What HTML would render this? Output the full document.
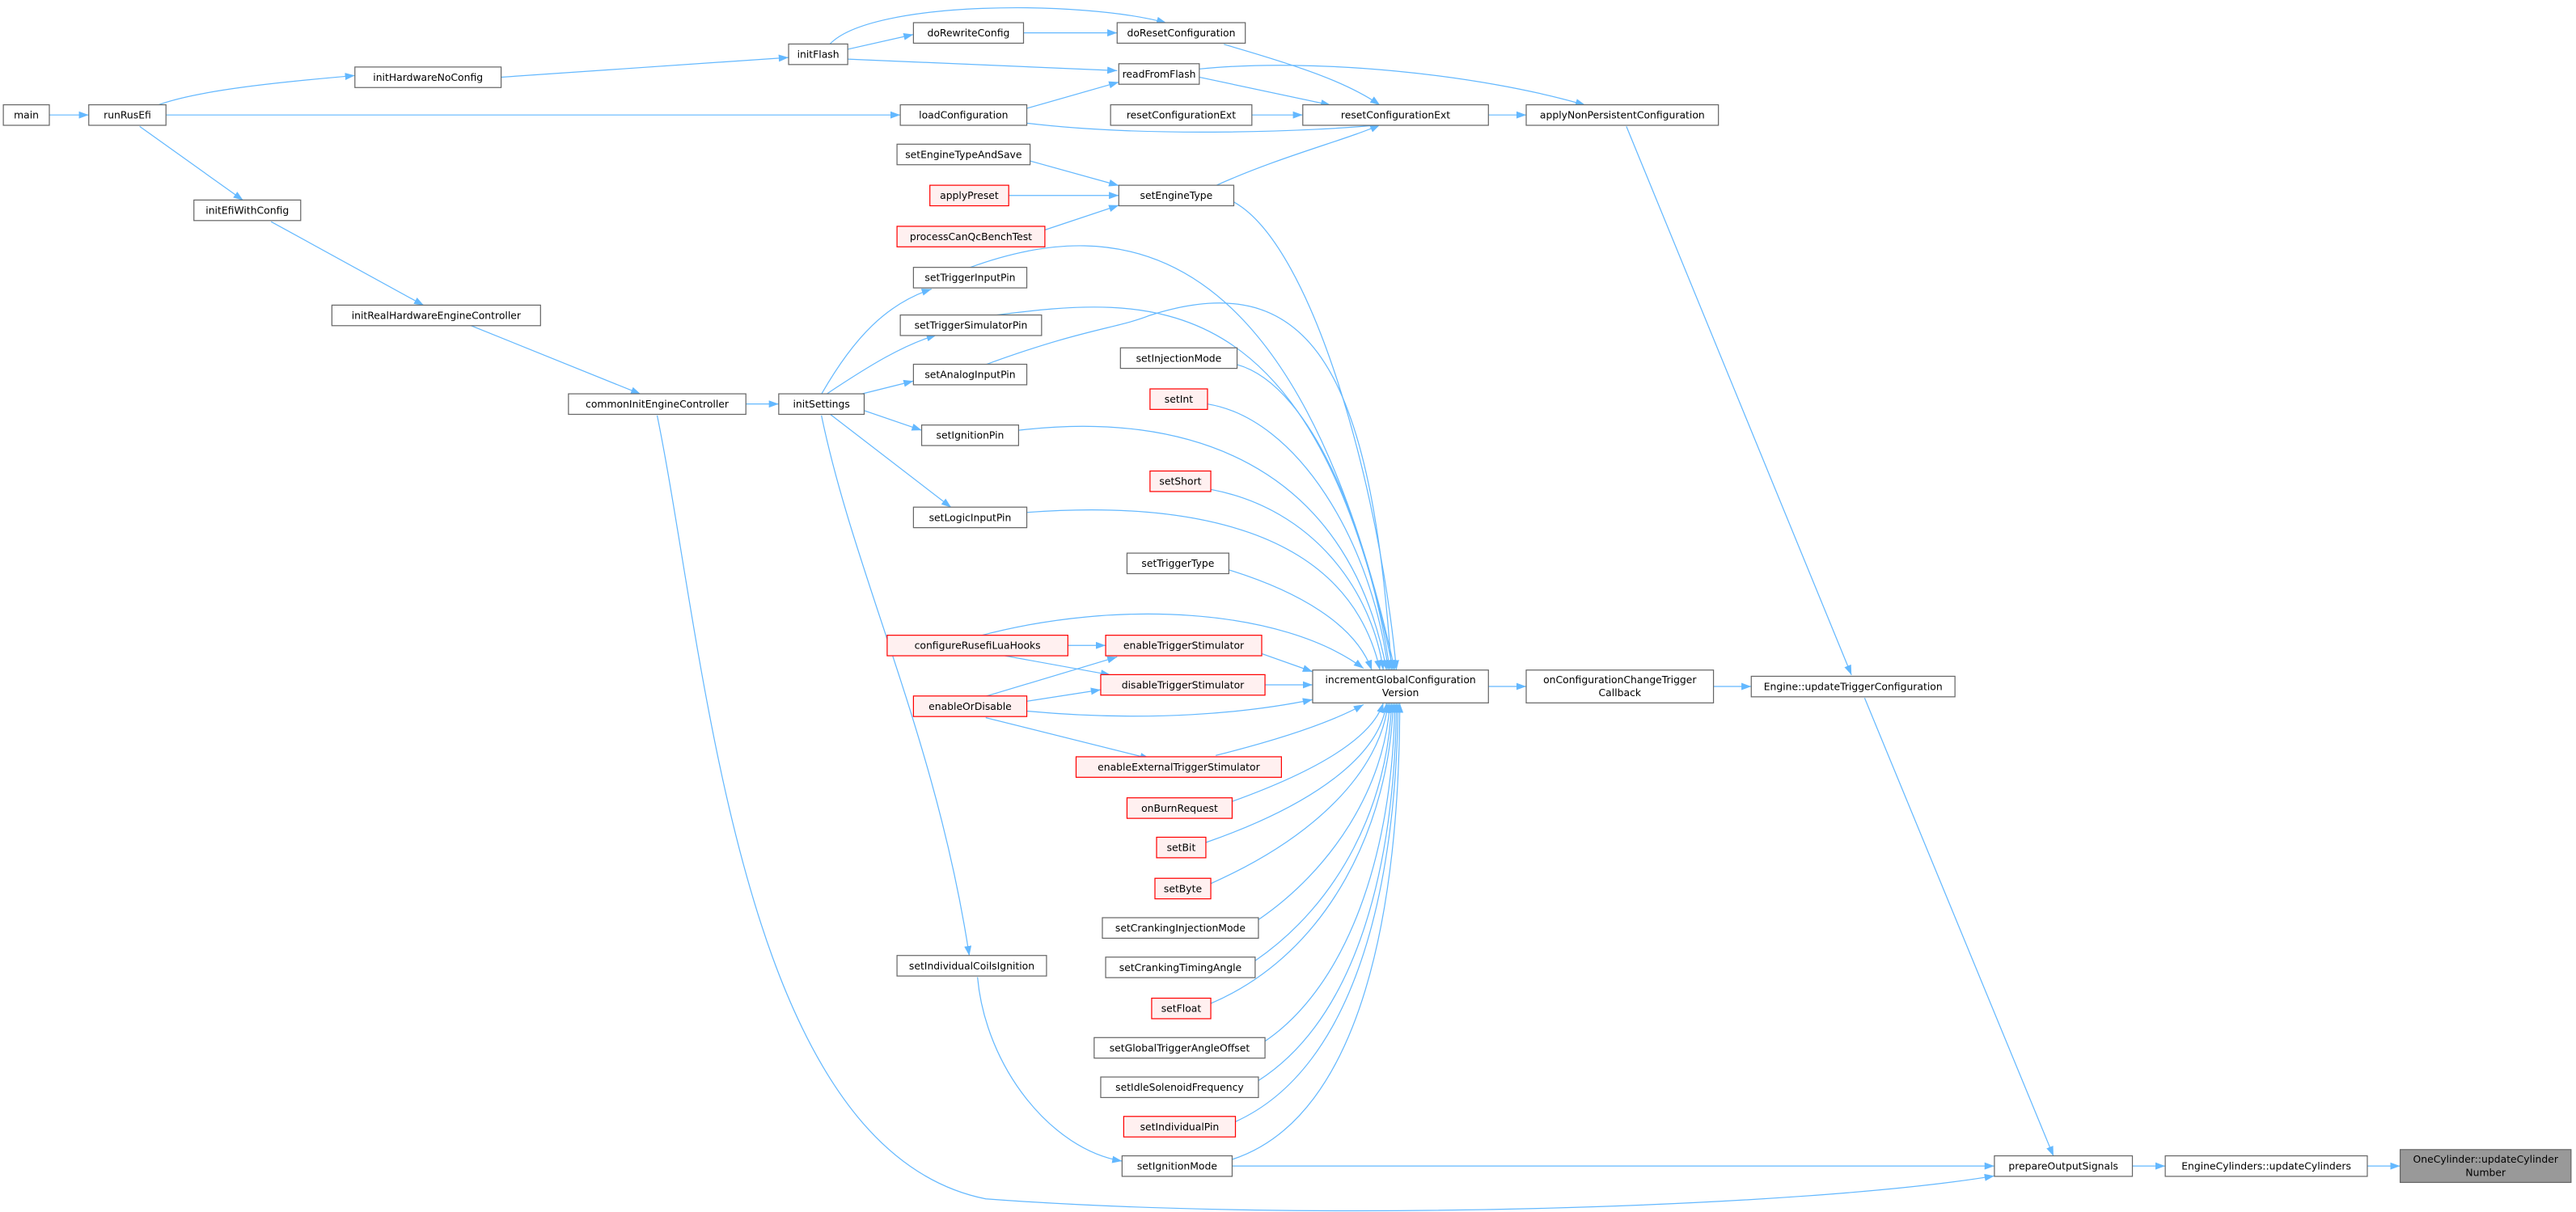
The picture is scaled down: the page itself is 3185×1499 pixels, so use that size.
<!DOCTYPE html>
<html><head><meta charset="utf-8"><style>
html,body{margin:0;padding:0;background:#fff;}
svg{display:block;}
text{font-family:"DejaVu Sans","Liberation Sans",sans-serif;font-size:6.1px;fill:#000;text-anchor:middle;}
.n{fill:#fff;stroke:#666;stroke-width:0.6;}
.r{fill:#fff0f0;stroke:#f00;stroke-width:0.6;}
.g{fill:#999;stroke:#666;stroke-width:0.6;}
path.e{fill:none;stroke:#63b8ff;stroke-width:0.6;}
</style></head><body>
<svg width="3185" height="1499" viewBox="0 0 1568 738" xmlns="http://www.w3.org/2000/svg">
<defs><marker id="a" markerWidth="6" markerHeight="4.4" refX="6" refY="2.2" orient="auto" markerUnits="userSpaceOnUse"><path d="M0,0 L6,2.2 L0,4.4z" fill="#63b8ff"/></marker></defs>
<g marker-end="url(#a)">
<path class="e" d="M30,70 L54,70"/>
<path class="e" d="M96,64 C120,55 170,50 216,46"/>
<path class="e" d="M85,77 L148,122"/>
<path class="e" d="M101,70 L548,70"/>
<path class="e" d="M305,47 L480,35"/>
<path class="e" d="M516,30 L556,21"/>
<path class="e" d="M505,27 C530,0 660,0 710,14"/>
<path class="e" d="M516,36 L680,43"/>
<path class="e" d="M623,20 L680,20"/>
<path class="e" d="M745,27 C790,40 820,50 840,64"/>
<path class="e" d="M730,47 L810,64"/>
<path class="e" d="M730,42 C800,35 900,45 965,64"/>
<path class="e" d="M625,66 L681,50"/>
<path class="e" d="M625,75 C700,84 800,80 840,76"/>
<path class="e" d="M762,70 L793,70"/>
<path class="e" d="M906,70 L929,70"/>
<path class="e" d="M740,113 C780,95 820,85 840,76"/>
<path class="e" d="M627,98 L681,113"/>
<path class="e" d="M614,119 L681,119"/>
<path class="e" d="M636,140 L681,125"/>
<path class="e" d="M751,123 C800,150 840,300 850,408"/>
<path class="e" d="M990,77 L1127,411"/>
<path class="e" d="M1135,425 L1250,704"/>
<path class="e" d="M165,135 L258,186"/>
<path class="e" d="M286,198 L390,240"/>
<path class="e" d="M454,246 L474,246"/>
<path class="e" d="M400,253 C430,400 450,700 600,730 C800,745 1100,735 1214,716"/>
<path class="e" d="M500,240 C520,205 540,185 567,176"/>
<path class="e" d="M503,240 C530,222 550,210 570,204"/>
<path class="e" d="M520,241 L556,232"/>
<path class="e" d="M526,250 L561,262"/>
<path class="e" d="M505,252 L579,309"/>
<path class="e" d="M500,253 C520,350 570,450 590,582"/>
<path class="e" d="M595,595 C600,650 640,700 683,707"/>
<path class="e" d="M750,710 L1214,710"/>
<path class="e" d="M1298,710 L1318,710"/>
<path class="e" d="M1441,710 L1461,710"/>
<path class="e" d="M906,418 L929,418"/>
<path class="e" d="M1043,418 L1066,418"/>
<path class="e" d="M590,163 C680,130 790,140 849,408"/>
<path class="e" d="M605,192 C700,180 800,170 848,408"/>
<path class="e" d="M600,222 C660,200 680,200 700,192 C800,160 835,230 847,408"/>
<path class="e" d="M753,222 C800,235 835,330 846,408"/>
<path class="e" d="M735,246 C790,255 835,330 845,408"/>
<path class="e" d="M620,262 C720,250 820,280 844,408"/>
<path class="e" d="M737,298 C800,310 835,360 842,408"/>
<path class="e" d="M625,312 C720,305 820,320 840,408"/>
<path class="e" d="M748,347 C790,360 825,380 835,408"/>
<path class="e" d="M597,387 C680,365 780,370 830,407"/>
<path class="e" d="M768,398 L799,409"/>
<path class="e" d="M770,417 L799,417"/>
<path class="e" d="M625,433 C700,440 760,434 799,426"/>
<path class="e" d="M650,393 L673,393"/>
<path class="e" d="M610,399 L676,411"/>
<path class="e" d="M600,424 L680,400"/>
<path class="e" d="M625,427 L670,420"/>
<path class="e" d="M600,437 L700,462"/>
<path class="e" d="M740,460 C780,450 810,440 830,429"/>
<path class="e" d="M750,488 C800,470 835,450 842,428"/>
<path class="e" d="M734,513 C800,490 840,460 844,428"/>
<path class="e" d="M737,538 C800,510 840,470 845,428"/>
<path class="e" d="M766,560 C810,530 843,480 846,428"/>
<path class="e" d="M764,585 C815,550 845,490 847,428"/>
<path class="e" d="M737,611 C810,580 846,500 848,428"/>
<path class="e" d="M770,634 C820,600 848,520 849,428"/>
<path class="e" d="M766,658 C825,620 849,530 850,428"/>
<path class="e" d="M752,683 C825,650 850,540 851,428"/>
<path class="e" d="M750,706 C830,680 852,550 852,428"/>
</g>
<g>
<rect class="n" x="2" y="63.8" width="28" height="12.5"/><text x="16" y="72.2">main</text>
<rect class="n" x="54" y="63.8" width="47" height="12.5"/><text x="77.5" y="72.2">runRusEfi</text>
<rect class="n" x="216" y="40.8" width="89" height="12.5"/><text x="260.5" y="49.2">initHardwareNoConfig</text>
<rect class="n" x="480" y="26.8" width="36" height="12.5"/><text x="498" y="35.2">initFlash</text>
<rect class="n" x="556" y="13.8" width="67" height="12.5"/><text x="589.5" y="22.2">doRewriteConfig</text>
<rect class="n" x="680" y="13.8" width="78" height="12.5"/><text x="719" y="22.2">doResetConfiguration</text>
<rect class="n" x="681" y="38.8" width="49" height="12.5"/><text x="705.5" y="47.2">readFromFlash</text>
<rect class="n" x="548" y="63.8" width="77" height="12.5"/><text x="586.5" y="72.2">loadConfiguration</text>
<rect class="n" x="676" y="63.8" width="86" height="12.5"/><text x="719" y="72.2">resetConfigurationExt</text>
<rect class="n" x="793" y="63.8" width="113" height="12.5"/><text x="849.5" y="72.2">resetConfigurationExt</text>
<rect class="n" x="929" y="63.8" width="117" height="12.5"/><text x="987.5" y="72.2">applyNonPersistentConfiguration</text>
<rect class="n" x="546" y="87.8" width="81" height="12.5"/><text x="586.5" y="96.2">setEngineTypeAndSave</text>
<rect class="r" x="566" y="112.8" width="48" height="12.5"/><text x="590" y="121.2">applyPreset</text>
<rect class="n" x="681" y="112.8" width="70" height="12.5"/><text x="716" y="121.2">setEngineType</text>
<rect class="r" x="546" y="137.8" width="90" height="12.5"/><text x="591" y="146.2">processCanQcBenchTest</text>
<rect class="n" x="556" y="162.8" width="69" height="12.5"/><text x="590.5" y="171.2">setTriggerInputPin</text>
<rect class="n" x="548" y="191.8" width="86" height="12.5"/><text x="591" y="200.2">setTriggerSimulatorPin</text>
<rect class="n" x="556" y="221.8" width="69" height="12.5"/><text x="590.5" y="230.2">setAnalogInputPin</text>
<rect class="n" x="561" y="258.8" width="59" height="12.5"/><text x="590.5" y="267.2">setIgnitionPin</text>
<rect class="n" x="556" y="308.8" width="69" height="12.5"/><text x="590.5" y="317.2">setLogicInputPin</text>
<rect class="n" x="118" y="121.8" width="65" height="12.5"/><text x="150.5" y="130.2">initEfiWithConfig</text>
<rect class="n" x="202" y="185.8" width="127" height="12.5"/><text x="265.5" y="194.2">initRealHardwareEngineController</text>
<rect class="n" x="346" y="239.8" width="108" height="12.5"/><text x="400" y="248.2">commonInitEngineController</text>
<rect class="n" x="474" y="239.8" width="52" height="12.5"/><text x="500" y="248.2">initSettings</text>
<rect class="n" x="682" y="211.8" width="71" height="12.5"/><text x="717.5" y="220.2">setInjectionMode</text>
<rect class="r" x="700" y="236.8" width="35" height="12.5"/><text x="717.5" y="245.2">setInt</text>
<rect class="r" x="700" y="286.8" width="37" height="12.5"/><text x="718.5" y="295.2">setShort</text>
<rect class="n" x="686" y="336.8" width="62" height="12.5"/><text x="717" y="345.2">setTriggerType</text>
<rect class="r" x="540" y="386.8" width="110" height="12.5"/><text x="595" y="395.2">configureRusefiLuaHooks</text>
<rect class="r" x="673" y="386.8" width="95" height="12.5"/><text x="720.5" y="395.2">enableTriggerStimulator</text>
<rect class="r" x="670" y="410.8" width="100" height="12.5"/><text x="720" y="419.2">disableTriggerStimulator</text>
<rect class="r" x="556" y="423.8" width="69" height="12.5"/><text x="590.5" y="432.2">enableOrDisable</text>
<rect class="r" x="655" y="460.8" width="125" height="12.5"/><text x="717.5" y="469.2">enableExternalTriggerStimulator</text>
<rect class="r" x="686" y="485.8" width="64" height="12.5"/><text x="718" y="494.2">onBurnRequest</text>
<rect class="r" x="704" y="509.8" width="30" height="12.5"/><text x="719" y="518.2">setBit</text>
<rect class="r" x="703" y="534.8" width="34" height="12.5"/><text x="720" y="543.2">setByte</text>
<rect class="n" x="671" y="558.8" width="95" height="12.5"/><text x="718.5" y="567.2">setCrankingInjectionMode</text>
<rect class="n" x="673" y="582.8" width="91" height="12.5"/><text x="718.5" y="591.2">setCrankingTimingAngle</text>
<rect class="r" x="701" y="607.8" width="36" height="12.5"/><text x="719" y="616.2">setFloat</text>
<rect class="n" x="666" y="631.8" width="104" height="12.5"/><text x="718" y="640.2">setGlobalTriggerAngleOffset</text>
<rect class="n" x="670" y="655.8" width="96" height="12.5"/><text x="718" y="664.2">setIdleSolenoidFrequency</text>
<rect class="r" x="684" y="679.8" width="68" height="12.5"/><text x="718" y="688.2">setIndividualPin</text>
<rect class="n" x="683" y="703.8" width="67" height="12.5"/><text x="716.5" y="712.2">setIgnitionMode</text>
<rect class="n" x="546" y="581.8" width="91" height="12.5"/><text x="591.5" y="590.2">setIndividualCoilsIgnition</text>
<rect class="n" x="799" y="408" width="107" height="20"/><text x="852.5" y="416">incrementGlobalConfiguration</text><text x="852.5" y="424">Version</text>
<rect class="n" x="929" y="408" width="114" height="20"/><text x="986" y="416">onConfigurationChangeTrigger</text><text x="986" y="424">Callback</text>
<rect class="n" x="1066" y="411.8" width="124" height="12.5"/><text x="1128" y="420.2">Engine::updateTriggerConfiguration</text>
<rect class="n" x="1214" y="703.8" width="84" height="12.5"/><text x="1256" y="712.2">prepareOutputSignals</text>
<rect class="n" x="1318" y="703.8" width="123" height="12.5"/><text x="1379.5" y="712.2">EngineCylinders::updateCylinders</text>
<rect class="g" x="1461" y="700" width="104" height="20"/><text x="1513" y="708">OneCylinder::updateCylinder</text><text x="1513" y="716">Number</text>
</g>
</svg>
</body></html>
